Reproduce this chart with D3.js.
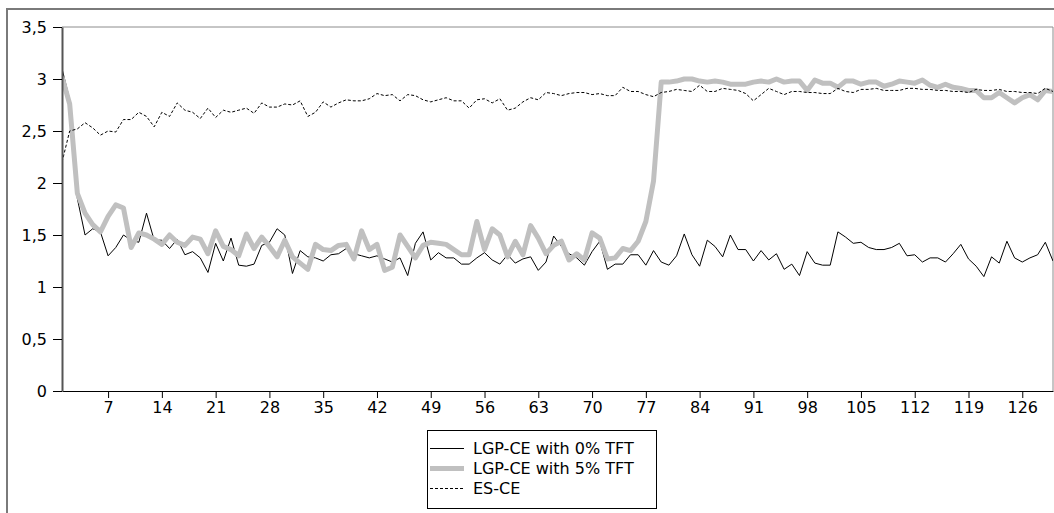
<!DOCTYPE html>
<html>
<head>
<meta charset="utf-8">
<script src="https://cdn.jsdelivr.net/npm/d3@7"></script>
<style>
  body { margin: 0; background: #fff; }
  svg { display: block; font-family: "DejaVu Sans", sans-serif; }
</style>
</head>
<body>
<div id="chart"></div>
<script>
// values, one per run (x = 1..130)
const lgp0 = [
  3.10, 2.80, 1.85, 1.50, 1.56, 1.53, 1.30, 1.38, 1.50, 1.45,
  1.43, 1.71, 1.45, 1.45, 1.37, 1.46, 1.31, 1.34, 1.28, 1.14,
  1.42, 1.25, 1.47, 1.21, 1.20, 1.22, 1.40, 1.43, 1.56, 1.50,
  1.13, 1.35, 1.29, 1.28, 1.25, 1.31, 1.32, 1.37, 1.32, 1.30,
  1.28, 1.30, 1.27, 1.24, 1.28, 1.11, 1.42, 1.53, 1.26, 1.33,
  1.28, 1.28, 1.22, 1.22, 1.28, 1.33, 1.26, 1.22, 1.31, 1.23,
  1.27, 1.29, 1.16, 1.24, 1.49, 1.39, 1.32, 1.28, 1.21, 1.34,
  1.44, 1.17, 1.22, 1.22, 1.31, 1.31, 1.21, 1.35, 1.24, 1.21,
  1.30, 1.51, 1.31, 1.20, 1.45, 1.39, 1.29, 1.50, 1.36, 1.36,
  1.25, 1.35, 1.26, 1.32, 1.17, 1.22, 1.11, 1.34, 1.23, 1.21,
  1.21, 1.53, 1.48, 1.42, 1.43, 1.38, 1.36, 1.36, 1.38, 1.42,
  1.30, 1.31, 1.24, 1.28, 1.28, 1.24, 1.32, 1.41, 1.27, 1.20,
  1.10, 1.29, 1.23, 1.44, 1.28, 1.24, 1.28, 1.31, 1.43, 1.25
];

const lgp5 = [
  3.02, 2.76, 1.90, 1.71, 1.60, 1.53, 1.68, 1.79, 1.76, 1.38,
  1.52, 1.50, 1.46, 1.41, 1.50, 1.43, 1.40, 1.48, 1.46, 1.32,
  1.54, 1.39, 1.36, 1.30, 1.51, 1.37, 1.48, 1.39, 1.29, 1.45,
  1.29, 1.23, 1.17, 1.41, 1.36, 1.35, 1.40, 1.41, 1.27, 1.54,
  1.36, 1.41, 1.16, 1.19, 1.50, 1.39, 1.28, 1.40, 1.43, 1.42,
  1.41, 1.36, 1.31, 1.31, 1.63, 1.36, 1.56, 1.50, 1.29, 1.44,
  1.31, 1.59, 1.47, 1.32, 1.40, 1.44, 1.26, 1.32, 1.26, 1.52,
  1.47, 1.27, 1.28, 1.37, 1.35, 1.44, 1.63, 2.02, 2.97, 2.97,
  2.98, 3.00, 3.00, 2.98, 2.97, 2.98, 2.97, 2.95, 2.95, 2.95,
  2.97, 2.98, 2.97, 3.00, 2.97, 2.98, 2.98, 2.89, 2.99, 2.96,
  2.96, 2.92, 2.98, 2.98, 2.95, 2.97, 2.97, 2.93, 2.95, 2.98,
  2.97, 2.96, 2.99, 2.94, 2.92, 2.95, 2.92, 2.91, 2.89, 2.89,
  2.82, 2.82, 2.87, 2.82, 2.77, 2.82, 2.85, 2.80, 2.89, 2.88
];

const esCe = [
  2.20, 2.50, 2.52, 2.58, 2.53, 2.46, 2.50, 2.49, 2.61, 2.61,
  2.68, 2.64, 2.54, 2.68, 2.64, 2.77, 2.70, 2.68, 2.62, 2.72,
  2.63, 2.70, 2.68, 2.70, 2.72, 2.67, 2.77, 2.73, 2.73, 2.76,
  2.75, 2.79, 2.64, 2.68, 2.78, 2.73, 2.77, 2.80, 2.79, 2.79,
  2.81, 2.86, 2.84, 2.85, 2.79, 2.85, 2.84, 2.80, 2.78, 2.80,
  2.82, 2.79, 2.79, 2.72, 2.80, 2.81, 2.77, 2.81, 2.70, 2.72,
  2.78, 2.82, 2.80, 2.87, 2.86, 2.84, 2.86, 2.87, 2.87, 2.85,
  2.86, 2.84, 2.84, 2.92, 2.88, 2.88, 2.85, 2.83, 2.87, 2.88,
  2.90, 2.89, 2.88, 2.94, 2.88, 2.88, 2.91, 2.90, 2.89, 2.86,
  2.79, 2.85, 2.91, 2.88, 2.85, 2.88, 2.88, 2.87, 2.87, 2.86,
  2.86, 2.91, 2.88, 2.87, 2.90, 2.90, 2.91, 2.89, 2.89, 2.89,
  2.91, 2.91, 2.90, 2.90, 2.89, 2.89, 2.88, 2.88, 2.87, 2.90,
  2.89, 2.89, 2.90, 2.88, 2.88, 2.87, 2.87, 2.86, 2.91, 2.88
];

const xTicks = [7, 14, 21, 28, 35, 42, 49, 56, 63, 70, 77, 84, 91, 98, 105, 112, 119, 126];
const yTicks = [0, 0.5, 1, 1.5, 2, 2.5, 3, 3.5];
const legendLabels = ['LGP-CE with 0% TFT', 'LGP-CE with 5% TFT', 'ES-CE'];

const width = 1054;
const height = 513;
const plot = { left: 62, right: 1053, top: 27, bottom: 391 };

// numbers are written with a decimal comma
const fmt = d3.formatLocale({ decimal: ',', thousands: '.', grouping: [3], currency: ['', ''] }).format('~g');

const svg = d3
  .select('#chart')
  .append('svg')
  .attr('width', width)
  .attr('height', height);

// outer frame (runs off the right/bottom edge)
svg
  .append('rect')
  .attr('x', 7)
  .attr('y', 9)
  .attr('width', 1060)
  .attr('height', 520)
  .attr('fill', 'none')
  .attr('stroke', '#7a7a7a')
  .attr('stroke-width', 2);

const x = d3.scaleLinear().domain([1, 130]).range([plot.left, plot.right]);
const y = d3.scaleLinear().domain([0, 3.5]).range([plot.bottom, plot.top]);

// plot frame, top and right
svg
  .append('path')
  .attr('d', `M${plot.left},${plot.top}H${plot.right}V${plot.bottom}`)
  .attr('fill', 'none')
  .attr('stroke', '#8c8c8c')
  .attr('stroke-width', 1);

svg
  .append('clipPath')
  .attr('id', 'clip')
  .append('rect')
  .attr('x', plot.left)
  .attr('y', plot.top - 10)
  .attr('width', plot.right - plot.left)
  .attr('height', plot.bottom - plot.top + 10);

const line = d3
  .line()
  .x((d, i) => x(i + 1))
  .y((d) => y(d));

const series = [
  { values: lgp0, stroke: '#000', width: 1, dash: null },
  { values: lgp5, stroke: '#c0c0c0', width: 5, dash: null },
  { values: esCe, stroke: '#000', width: 1, dash: '3,2' },
];

const lines = svg.append('g').attr('clip-path', 'url(#clip)');
series.forEach((s) => {
  lines
    .append('path')
    .attr('d', line(s.values))
    .attr('fill', 'none')
    .attr('stroke', s.stroke)
    .attr('stroke-width', s.width)
    .attr('stroke-linejoin', 'round')
    .attr('stroke-dasharray', s.dash);
});

// x axis
const xAxis = svg
  .append('g')
  .attr('transform', `translate(0,${plot.bottom})`)
  .call(d3.axisBottom(x).tickValues(xTicks).tickSize(7).tickSizeOuter(0).tickPadding(4));
xAxis.select('.domain').attr('stroke', '#000');
xAxis.selectAll('text').attr('font-size', 16).attr('font-family', '"DejaVu Sans", sans-serif').attr('fill', '#000');

// y axis
const yAxis = svg
  .append('g')
  .attr('transform', `translate(${plot.left},0)`)
  .call(d3.axisLeft(y).tickValues(yTicks).tickFormat(fmt).tickSize(9).tickSizeOuter(0).tickPadding(6));
yAxis.select('.domain').attr('stroke', '#555').attr('stroke-width', 2);
yAxis.selectAll('text').attr('font-size', 16).attr('font-family', '"DejaVu Sans", sans-serif').attr('fill', '#000');

// legend
const legend = svg.append('g');
legend
  .append('rect')
  .attr('x', 427.5)
  .attr('y', 430.5)
  .attr('width', 229)
  .attr('height', 78)
  .attr('fill', '#fff')
  .attr('stroke', '#000')
  .attr('stroke-width', 1);

legendLabels.forEach((label, i) => {
  const s = series[i];
  const ly = 448 + i * 20;
  legend
    .append('line')
    .attr('x1', 430)
    .attr('x2', 464)
    .attr('y1', ly + 0.5)
    .attr('y2', ly + 0.5)
    .attr('stroke', s.stroke)
    .attr('stroke-width', s.width)
    .attr('stroke-dasharray', s.dash);
  legend
    .append('text')
    .attr('x', 473)
    .attr('y', ly + 6)
    .attr('font-size', 16)
    .attr('fill', '#000')
    .text(label);
});
</script>
</body>
</html>
